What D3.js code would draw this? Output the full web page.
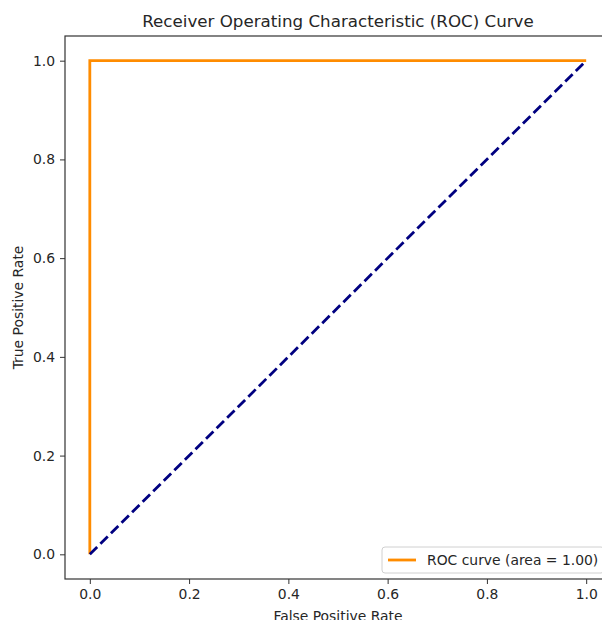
<!DOCTYPE html>
<html>
<head>
<meta charset="utf-8">
<script src="https://cdn.jsdelivr.net/npm/d3@7"></script>
<style>
  body { margin: 0; background: #fff; overflow: hidden; }
  text { font-family: "DejaVu Sans", sans-serif; fill: #262626; }
</style>
</head>
<body>
<script>
// ROC data
var fpr = [0, 0, 1];
var tpr = [0, 1, 1];
var chanceX = [0, 1];
var chanceY = [0, 1];
var xTicks = [0, 0.2, 0.4, 0.6, 0.8, 1.0];
var yTicks = [0, 0.2, 0.4, 0.6, 0.8, 1.0];
var rocLabel = "ROC curve (area = 1.00)";

var width = 602, height = 620;
var plotLeft = 65, plotRight = 611, plotTop = 36, plotBottom = 579;

var svg = d3.select("body").append("svg")
  .attr("width", width).attr("height", height);

var x = d3.scaleLinear().domain([-0.05, 1.05]).range([plotLeft, plotRight]);
var y = d3.scaleLinear().domain([-0.05, 1.05]).range([plotBottom, plotTop]);

// axes
var xAxis = svg.append("g").attr("transform", "translate(0," + plotBottom + ")")
  .call(d3.axisBottom(x).tickValues(xTicks).tickFormat(d3.format(".1f")).tickSize(5).tickPadding(5));
var yAxis = svg.append("g").attr("transform", "translate(" + plotLeft + ",0)")
  .call(d3.axisLeft(y).tickValues(yTicks).tickFormat(d3.format(".1f")).tickSize(5).tickPadding(5));
[xAxis, yAxis].forEach(function(a) {
  a.select(".domain").remove();
  a.selectAll("line").attr("stroke", "#333").attr("stroke-width", 1);
  a.selectAll("text").style("font-size", "13.9px").attr("fill", "#262626");
});

// frame
svg.append("rect").attr("x", plotLeft).attr("y", plotTop)
  .attr("width", plotRight - plotLeft).attr("height", plotBottom - plotTop)
  .attr("fill", "none").attr("stroke", "#333").attr("stroke-width", 1.2);

var line = d3.line().x(function(d) { return x(d[0]); }).y(function(d) { return y(d[1]); });

svg.append("path")
  .datum(d3.zip(fpr, tpr))
  .attr("d", line)
  .attr("fill", "none").attr("stroke", "darkorange").attr("stroke-width", 2.8);

svg.append("path")
  .datum(d3.zip(chanceX, chanceY))
  .attr("d", line)
  .attr("fill", "none").attr("stroke", "navy").attr("stroke-width", 2.8)
  .attr("stroke-dasharray", "10.4,4.5");

// title and labels
svg.append("text").attr("x", (plotLeft + plotRight) / 2).attr("y", 27)
  .attr("text-anchor", "middle").style("font-size", "16.7px")
  .text("Receiver Operating Characteristic (ROC) Curve");
svg.append("text").attr("x", (plotLeft + plotRight) / 2).attr("y", 621)
  .attr("text-anchor", "middle").style("font-size", "13.9px")
  .text("False Positive Rate");
svg.append("text").attr("transform", "translate(23," + ((plotTop + plotBottom) / 2) + ") rotate(-90)")
  .attr("text-anchor", "middle").style("font-size", "13.9px")
  .text("True Positive Rate");

// legend
var lg = svg.append("g").attr("transform", "translate(382,547)");
lg.append("rect").attr("width", 222).attr("height", 26).attr("rx", 3)
  .attr("fill", "#fff").attr("fill-opacity", 0.8).attr("stroke", "#d0d0d0");
lg.append("line").attr("x1", 6).attr("x2", 34).attr("y1", 13).attr("y2", 13)
  .attr("stroke", "darkorange").attr("stroke-width", 2.8);
lg.append("text").attr("x", 45).attr("y", 18).style("font-size", "13.9px").text(rocLabel);
</script>
</body>
</html>
